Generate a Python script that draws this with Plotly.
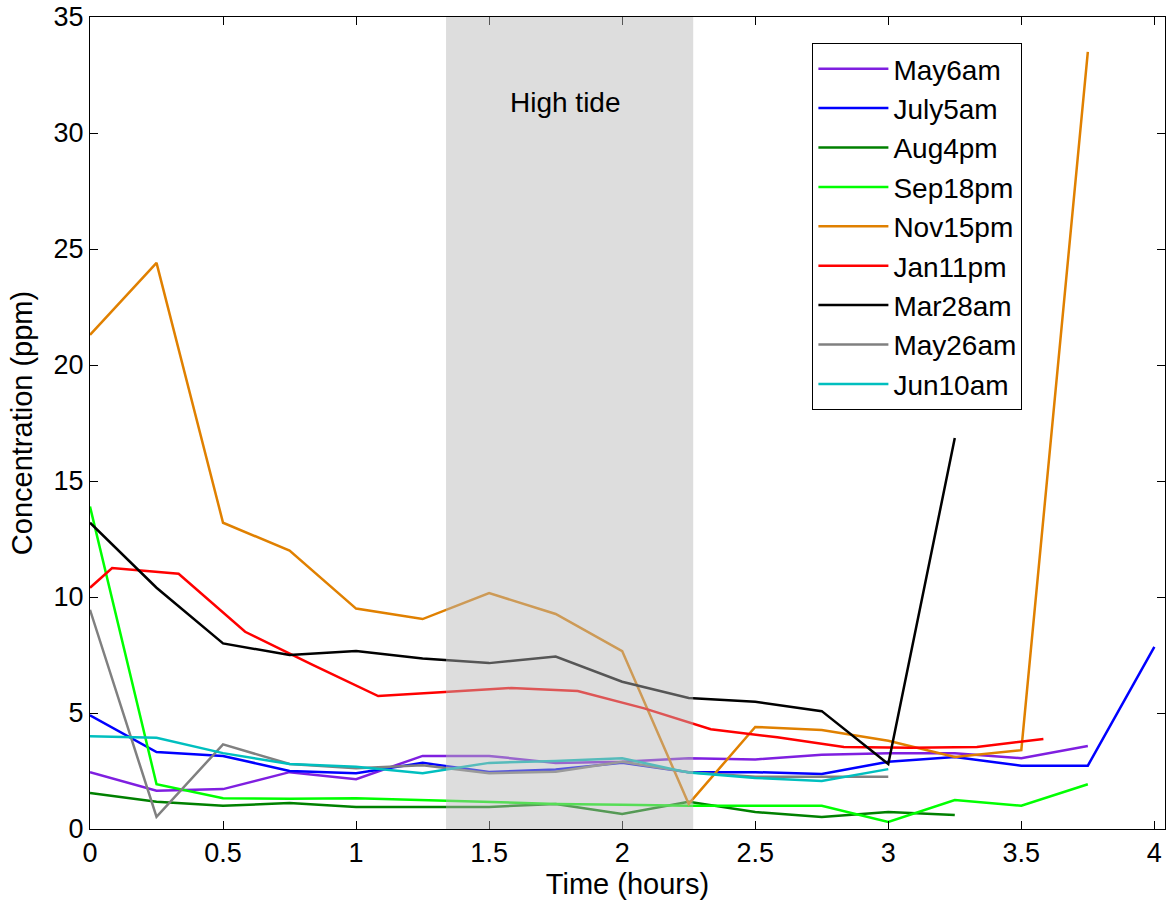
import plotly.graph_objects as go

t_q = [0, 0.25, 0.5, 0.75, 1.0, 1.25, 1.5, 1.75, 2.0, 2.25, 2.5, 2.75, 3.0, 3.25, 3.5, 3.75, 4.0]
t_red = [0, 0.083, 0.333, 0.583, 0.833, 1.083, 1.333, 1.583, 1.833, 2.083, 2.333, 2.583, 2.833, 3.083, 3.333, 3.583]

may6am = [2.45, 1.65, 1.72, 2.45, 2.15, 3.15, 3.15, 2.85, 2.9, 3.05, 3.0, 3.2, 3.27, 3.27, 3.05, 3.58]
july5am = [4.9, 3.32, 3.15, 2.5, 2.4, 2.85, 2.46, 2.57, 2.85, 2.45, 2.45, 2.37, 2.9, 3.1, 2.73, 2.73, 7.85]
aug4pm = [1.55, 1.17, 1.0, 1.12, 0.95, 0.95, 0.95, 1.08, 0.65, 1.17, 0.73, 0.52, 0.73, 0.6]
sep18pm = [13.9, 1.93, 1.33, 1.3, 1.33, 1.25, 1.17, 1.08, 1.05, 1.0, 1.0, 1.0, 0.3, 1.25, 1.0, 1.93]
nov15pm = [21.3, 24.4, 13.2, 12.0, 9.5, 9.05, 10.17, 9.27, 7.67, 1.08, 4.4, 4.27, 3.8, 3.1, 3.4, 33.5]
jan11pm = [10.4, 11.25, 11.0, 8.5, 7.1, 5.73, 5.9, 6.08, 5.95, 5.2, 4.3, 3.95, 3.53, 3.5, 3.53, 3.88]
mar28am = [13.2, 10.4, 8.0, 7.5, 7.67, 7.35, 7.15, 7.43, 6.35, 5.65, 5.48, 5.08, 2.8, 16.85]
may26am = [9.45, 0.52, 3.65, 2.8, 2.62, 2.75, 2.4, 2.47, 2.9, 2.45, 2.25, 2.25, 2.25]
jun10am = [4.0, 3.93, 3.27, 2.8, 2.68, 2.4, 2.85, 2.93, 3.05, 2.43, 2.2, 2.07, 2.58]

series = [
    ("May6am", t_q, may6am, "#7F1FE0"),
    ("July5am", t_q, july5am, "#0000FF"),
    ("Aug4pm", t_q, aug4pm, "#008000"),
    ("Sep18pm", t_q, sep18pm, "#00FF00"),
    ("Nov15pm", t_q, nov15pm, "#E08000"),
    ("Jan11pm", t_red, jan11pm, "#FF0000"),
    ("Mar28am", t_q, mar28am, "#000000"),
    ("May26am", t_q, may26am, "#808080"),
    ("Jun10am", t_q, jun10am, "#00BFBF"),
]

tide_start, tide_end = 1.338, 2.267

FONT = "Liberation Sans, Arial"

fig = go.Figure()
for name, t, v, c in series:
    fig.add_trace(go.Scatter(x=t[:len(v)], y=v, mode="lines", name=name,
                             line=dict(color=c, width=2.5), legendgroup=name))

fig.add_shape(type="rect", xref="x", yref="y", x0=tide_start, x1=tide_end, y0=0, y1=35,
              fillcolor="rgba(182,182,182,0.47)", line=dict(width=0), layer="above")
fig.add_annotation(x=1.786, y=31.3, text="High tide", showarrow=False,
                   font=dict(family=FONT, size=28, color="black"))

axis_common = dict(showline=True, linecolor="black", linewidth=1, mirror="ticks",
                   ticks="inside", ticklen=8, tickcolor="black", showgrid=False, zeroline=False,
                   automargin=False,
                   tickfont=dict(family=FONT, size=27, color="black"))
fig.update_xaxes(range=[0, 4.04], tickvals=[0, 0.5, 1, 1.5, 2, 2.5, 3, 3.5, 4],
                 ticktext=["0", "0.5", "1", "1.5", "2", "2.5", "3", "3.5", "4"],
                 title=dict(text="Time (hours)", standoff=0,
                            font=dict(family=FONT, size=29, color="black")),
                 **axis_common)
fig.update_yaxes(range=[0, 35], tickvals=[0, 5, 10, 15, 20, 25, 30, 35],
                 title=dict(text="Concentration (ppm)", standoff=12,
                            font=dict(family=FONT, size=29, color="black")),
                 **axis_common)

fig.update_layout(
    width=1171, height=903,
    margin=dict(l=90, r=6, t=17, b=74, autoexpand=False),
    paper_bgcolor="white", plot_bgcolor="white",
    legend=dict(x=0.672, y=0.968, xanchor="left", yanchor="top",
                bordercolor="black", borderwidth=1, bgcolor="white",
                font=dict(family=FONT, size=28, color="black"),
                itemwidth=70, tracegroupgap=0),
    showlegend=True,
)

fig.write_html("out.html")
